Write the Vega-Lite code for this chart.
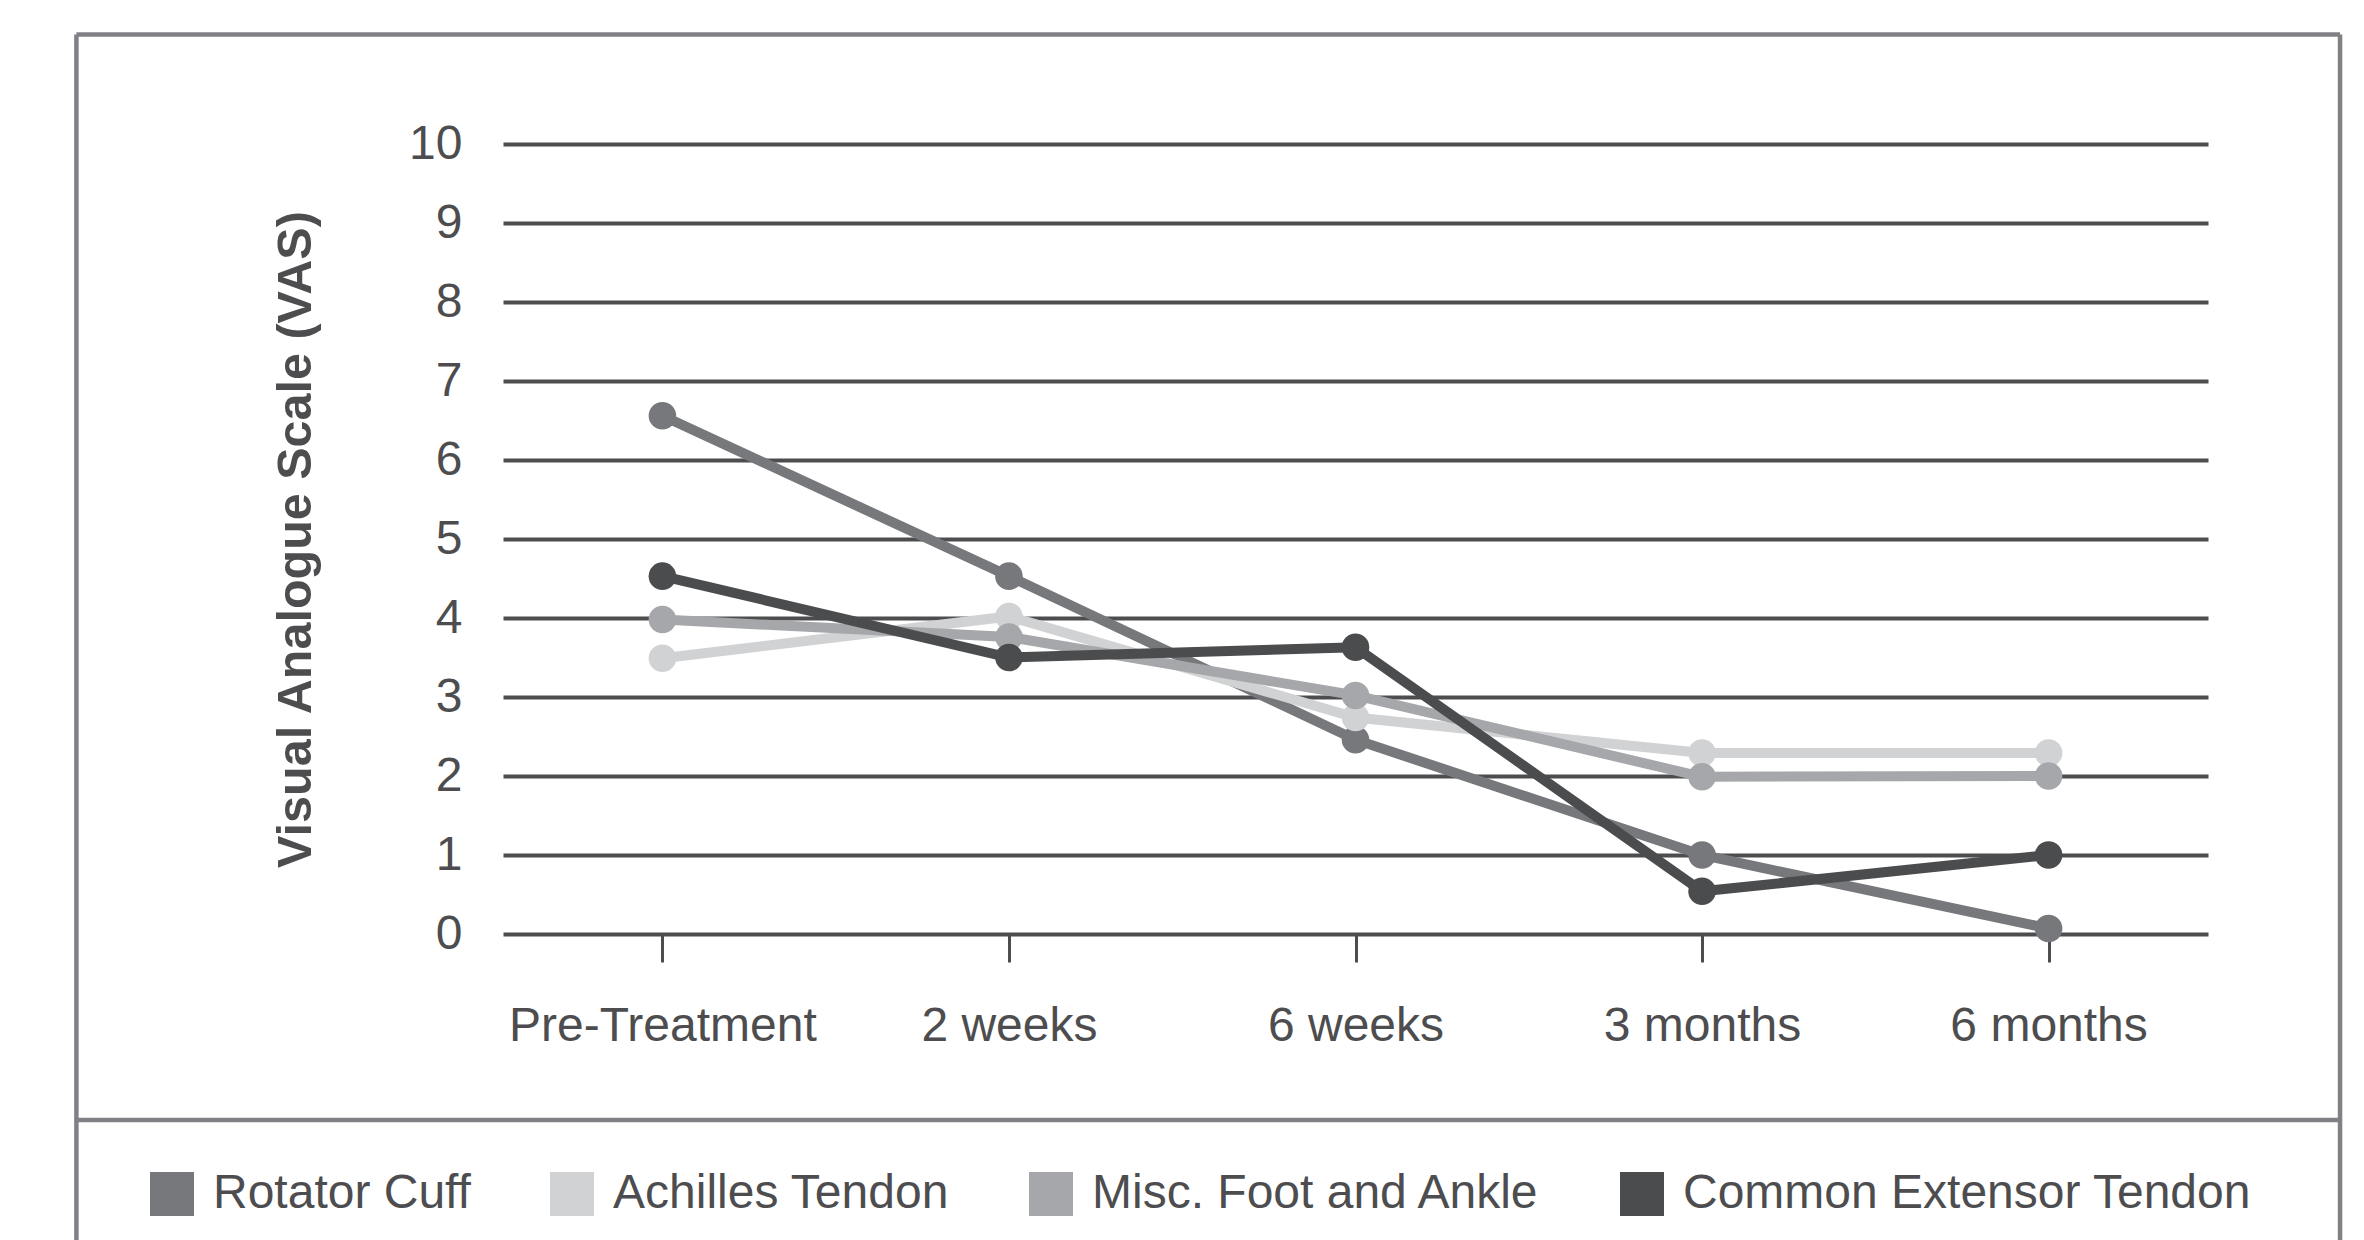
{
  "$schema": "https://vega.github.io/schema/vega-lite/v6.json",
  "width": 1705,
  "height": 790,
  "autosize": {"type": "none"},
  "padding": {"left": 503, "top": 144, "right": 156, "bottom": 306},
  "background": "white",
  "config": {
    "view": {"stroke": null},
    "font": "Liberation Sans, Arial, sans-serif"
  },
  "data": {
    "values": [
      {"series": "Rotator Cuff", "time": "Pre-Treatment", "vas": 6.56},
      {"series": "Rotator Cuff", "time": "2 weeks", "vas": 4.53},
      {"series": "Rotator Cuff", "time": "6 weeks", "vas": 2.46},
      {"series": "Rotator Cuff", "time": "3 months", "vas": 1.0},
      {"series": "Rotator Cuff", "time": "6 months", "vas": 0.07},
      {"series": "Achilles Tendon", "time": "Pre-Treatment", "vas": 3.49},
      {"series": "Achilles Tendon", "time": "2 weeks", "vas": 4.02},
      {"series": "Achilles Tendon", "time": "6 weeks", "vas": 2.74},
      {"series": "Achilles Tendon", "time": "3 months", "vas": 2.29},
      {"series": "Achilles Tendon", "time": "6 months", "vas": 2.29},
      {"series": "Misc. Foot and Ankle", "time": "Pre-Treatment", "vas": 3.98},
      {"series": "Misc. Foot and Ankle", "time": "2 weeks", "vas": 3.76},
      {"series": "Misc. Foot and Ankle", "time": "6 weeks", "vas": 3.02},
      {"series": "Misc. Foot and Ankle", "time": "3 months", "vas": 1.99},
      {"series": "Misc. Foot and Ankle", "time": "6 months", "vas": 2.0},
      {"series": "Common Extensor Tendon", "time": "Pre-Treatment", "vas": 4.53},
      {"series": "Common Extensor Tendon", "time": "2 weeks", "vas": 3.5},
      {"series": "Common Extensor Tendon", "time": "6 weeks", "vas": 3.63},
      {"series": "Common Extensor Tendon", "time": "3 months", "vas": 0.54},
      {"series": "Common Extensor Tendon", "time": "6 months", "vas": 1.0}
    ]
  },
  "layer": [
    {
      "data": {"values": [{}]},
      "layer": [
        {
          "mark": {"type": "rule", "stroke": "#808184", "strokeWidth": 4.5},
          "encoding": {
            "x": {"datum": -1.691, "type": "quantitative", "scale": {"domain": [-0.46, 4.46], "nice": false, "zero": false}, "axis": null},
            "x2": {"datum": 4.841},
            "y": {"datum": 11.386, "type": "quantitative", "scale": {"domain": [0, 10], "nice": false, "zero": false}}
          }
        },
        {
          "mark": {"type": "rule", "stroke": "#808184", "strokeWidth": 4.5},
          "encoding": {
            "x": {"datum": -1.691, "type": "quantitative", "scale": {"domain": [-0.46, 4.46], "nice": false, "zero": false}, "axis": null},
            "x2": {"datum": 4.841},
            "y": {"datum": -2.354, "type": "quantitative", "scale": {"domain": [0, 10], "nice": false, "zero": false}}
          }
        },
        {
          "mark": {"type": "rule", "stroke": "#808184", "strokeWidth": 4.5},
          "encoding": {
            "x": {"datum": -1.691, "type": "quantitative", "scale": {"domain": [-0.46, 4.46], "nice": false, "zero": false}, "axis": null},
            "y": {"datum": 11.386, "type": "quantitative", "scale": {"domain": [0, 10], "nice": false, "zero": false}},
            "y2": {"datum": -4.5}
          }
        },
        {
          "mark": {"type": "rule", "stroke": "#808184", "strokeWidth": 4.5},
          "encoding": {
            "x": {"datum": 4.841, "type": "quantitative", "scale": {"domain": [-0.46, 4.46], "nice": false, "zero": false}, "axis": null},
            "y": {"datum": 11.386, "type": "quantitative", "scale": {"domain": [0, 10], "nice": false, "zero": false}},
            "y2": {"datum": -4.5}
          }
        }
      ]
    },
    {
      "layer": [
        {"mark": {"type": "line", "strokeWidth": 10}},
        {"mark": {"type": "point", "filled": true, "opacity": 1, "size": 760}}
      ],
      "encoding": {
        "x": {
          "field": "time",
          "type": "ordinal",
          "sort": ["Pre-Treatment", "2 weeks", "6 weeks", "3 months", "6 months"],
          "scale": {"type": "point", "padding": 0.46},
          "axis": {
            "title": null,
            "labelAngle": 0,
            "labelLimit": 0,
            "domain": false,
            "grid": false,
            "ticks": true,
            "tickSize": 28,
            "tickWidth": 3,
            "tickColor": "#4d4d4f",
            "labelFontSize": 48,
            "labelColor": "#4d4d4f",
            "labelPadding": 40
          }
        },
        "y": {
          "field": "vas",
          "type": "quantitative",
          "scale": {"domain": [0, 10], "nice": false, "zero": false},
          "axis": {
            "title": "Visual Analogue Scale (VAS)",
            "titleFontSize": 48.5,
            "titleFontWeight": "bold",
            "titleColor": "#4d4d4f",
            "titlePadding": 88,
            "values": [0, 1, 2, 3, 4, 5, 6, 7, 8, 9, 10],
            "format": "d",
            "labelFontSize": 48,
            "labelColor": "#4d4d4f",
            "labelPadding": 41,
            "ticks": false,
            "domain": false,
            "grid": true,
            "gridColor": "#4d4d4f",
            "gridWidth": 4
          }
        },
        "color": {
          "field": "series",
          "type": "nominal",
          "scale": {
            "domain": ["Rotator Cuff", "Achilles Tendon", "Misc. Foot and Ankle", "Common Extensor Tendon"],
            "range": ["#77787c", "#d1d2d4", "#a6a7aa", "#4b4c4e"]
          },
          "legend": {
            "title": null,
            "orient": "none",
            "direction": "horizontal",
            "legendX": -355,
            "legendY": 1026,
            "symbolType": "square",
            "symbolSize": 1936,
            "symbolStrokeWidth": 0,
            "symbolOpacity": 1,
            "labelFontSize": 48,
            "labelColor": "#4d4d4f",
            "labelOffset": 17,
            "columnPadding": 77,
            "labelLimit": 0
          }
        }
      }
    }
  ],
  "resolve": {"scale": {"x": "independent"}}
}
